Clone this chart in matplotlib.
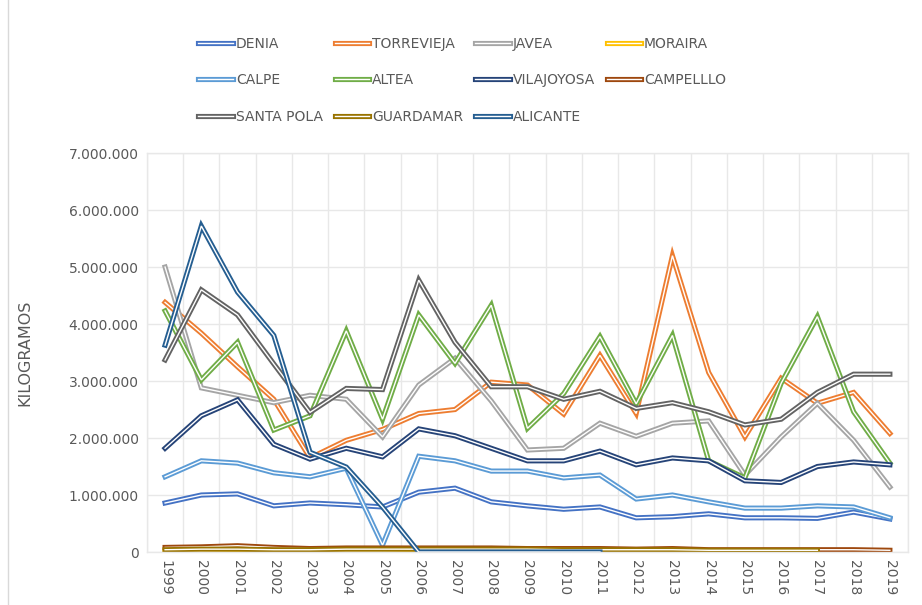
import numpy as np
import matplotlib.pyplot as plt
import matplotlib.patheffects as pe
from matplotlib.ticker import FuncFormatter
from matplotlib.lines import Line2D

years = [str(y) for y in range(1999, 2020)]

# kilos per year
denia = [0.86e6, 1.00e6, 1.02e6, 0.81e6, 0.86e6, 0.83e6, 0.79e6, 1.05e6, 1.12e6, 0.88e6, 0.81e6,
         0.75e6, 0.79e6, 0.60e6, 0.62e6, 0.67e6, 0.60e6, 0.60e6, 0.59e6, 0.70e6, 0.58e6]
torrevieja = [4.38e6, 3.84e6, 3.25e6, 2.68e6, 1.65e6, 1.96e6, 2.15e6, 2.43e6, 2.50e6, 2.98e6, 2.93e6,
              2.42e6, 3.45e6, 2.43e6, 5.20e6, 3.15e6, 2.02e6, 3.05e6, 2.61e6, 2.80e6, 2.08e6]
javea = [5.00e6, 2.88e6, 2.75e6, 2.62e6, 2.75e6, 2.68e6, 2.02e6, 2.93e6, 3.40e6, 2.65e6, 1.79e6,
         1.82e6, 2.26e6, 2.03e6, 2.26e6, 2.30e6, 1.35e6, 2.02e6, 2.61e6, 1.96e6, 1.14e6]
moraira = [0.02e6, 0.02e6, 0.03e6, 0.02e6, 0.02e6, 0.02e6, 0.02e6, 0.03e6, 0.03e6, 0.03e6, 0.03e6,
           0.03e6, 0.04e6, 0.03e6, 0.04e6, 0.02e6, 0.02e6, 0.02e6, 0.02e6, np.nan, np.nan]
calpe = [1.32e6, 1.60e6, 1.56e6, 1.39e6, 1.32e6, 1.47e6, 0.12e6, 1.68e6, 1.60e6, 1.42e6, 1.42e6,
         1.30e6, 1.35e6, 0.93e6, 1.00e6, 0.88e6, 0.77e6, 0.77e6, 0.81e6, 0.79e6, 0.60e6]
altea = [4.23e6, 3.02e6, 3.68e6, 2.14e6, 2.39e6, 3.88e6, 2.33e6, 4.16e6, 3.31e6, 4.33e6, 2.17e6,
         2.78e6, 3.78e6, 2.60e6, 3.80e6, 1.60e6, 1.30e6, 2.96e6, 4.13e6, 2.46e6, 1.56e6]
vilajoyosa = [1.82e6, 2.39e6, 2.67e6, 1.89e6, 1.63e6, 1.82e6, 1.67e6, 2.16e6, 2.04e6, 1.82e6, 1.60e6,
              1.60e6, 1.77e6, 1.53e6, 1.65e6, 1.60e6, 1.25e6, 1.22e6, 1.50e6, 1.58e6, 1.53e6]
campelllo = [0.08e6, 0.09e6, 0.11e6, 0.08e6, 0.06e6, 0.07e6, 0.07e6, 0.07e6, 0.07e6, 0.07e6, 0.06e6,
             0.06e6, 0.06e6, 0.05e6, 0.06e6, 0.04e6, 0.04e6, 0.04e6, 0.04e6, 0.04e6, 0.03e6]
santa_pola = [3.37e6, 4.60e6, 4.16e6, 3.30e6, 2.45e6, 2.87e6, 2.85e6, 4.77e6, 3.68e6, 2.90e6, 2.90e6,
              2.68e6, 2.82e6, 2.52e6, 2.62e6, 2.46e6, 2.23e6, 2.33e6, 2.80e6, 3.12e6, 3.12e6]
guardamar = [0.04e6, 0.05e6, 0.05e6, 0.04e6, 0.04e6, 0.05e6, 0.05e6, 0.05e6, 0.05e6, 0.05e6, 0.05e6,
             0.04e6, 0.04e6, 0.04e6, 0.04e6, 0.03e6, 0.03e6, 0.03e6, 0.03e6, np.nan, np.nan]
alicante = [3.63e6, 5.72e6, 4.56e6, 3.80e6, 1.75e6, 1.49e6, 0.79e6, 0.0, 0.0, 0.0, 0.0,
            0.0, 0.0, np.nan, np.nan, np.nan, np.nan, np.nan, np.nan, np.nan, np.nan]

names = ['DENIA', 'TORREVIEJA', 'JAVEA', 'MORAIRA', 'CALPE', 'ALTEA', 'VILAJOYOSA',
         'CAMPELLLO', 'SANTA POLA', 'GUARDAMAR', 'ALICANTE']
series = [denia, torrevieja, javea, moraira, calpe, altea, vilajoyosa,
          campelllo, santa_pola, guardamar, alicante]
colors = ['#4472C4', '#ED7D31', '#A5A5A5', '#FFC000', '#5B9BD5', '#70AD47', '#264478',
          '#9E480E', '#636363', '#997300', '#255E91']

plt.rcParams['font.family'] = 'DejaVu Sans'
fig = plt.figure(figsize=(9.22, 6.05), dpi=100)
ax = fig.add_axes([0.1594, 0.0876, 0.8254, 0.6594])

x = np.arange(len(years))
handles = {}
for name, vals, c in zip(names, series, colors):
    # double line look: coloured stroke with a thin white core
    ln, = ax.plot(x, vals, color='white', lw=1.0, solid_joinstyle='miter',
                  path_effects=[pe.Stroke(linewidth=3.7, foreground=c), pe.Normal()],
                  label=name)
    handles[name] = ln

ax.set_xlim(-0.5, len(years) - 0.5)
ax.set_ylim(0, 7e6)
ax.set_yticks(np.arange(0, 7.01e6, 1e6))
ax.yaxis.set_major_formatter(FuncFormatter(lambda v, p: f'{int(v):,}'.replace(',', '.')))
ax.set_xticks(x)
ax.set_xticklabels(years, rotation=-90)
ax.set_xticks(np.arange(-0.5, len(years)), minor=True)
ax.grid(True, which='minor', axis='x', color='#E8E8E8', lw=1)
ax.grid(True, which='major', axis='y', color='#E8E8E8', lw=1)
ax.set_axisbelow(True)
ax.tick_params(which='both', length=0)
ax.tick_params(axis='y', labelsize=10, labelcolor='#595959', pad=6)
ax.tick_params(axis='x', labelsize=10, labelcolor='#595959', pad=6)
for s in ax.spines.values():
    s.set_color('#E8E8E8')
    s.set_linewidth(1)
ax.set_ylabel('KILOGRAMOS', fontsize=11.5, color='#595959')
ax.yaxis.set_label_coords(-0.151, 0.5)

# legend filled row by row like the original
order = ['DENIA', 'CALPE', 'SANTA POLA', 'TORREVIEJA', 'ALTEA', 'GUARDAMAR',
         'JAVEA', 'VILAJOYOSA', 'ALICANTE', 'MORAIRA', 'CAMPELLLO']
leg = fig.legend([handles[n] for n in order], order, ncol=4, loc='upper left',
                 bbox_to_anchor=(0.203, 0.958), frameon=False, fontsize=10,
                 handlelength=2.5, handletextpad=0.2, columnspacing=0.85,
                 labelspacing=1.62, labelcolor='#595959', borderpad=0.3)

fig.add_artist(Line2D([8 / 922, 8 / 922], [0, 1], color='#D9D9D9', lw=1))

fig.savefig('out.png', dpi=100)
